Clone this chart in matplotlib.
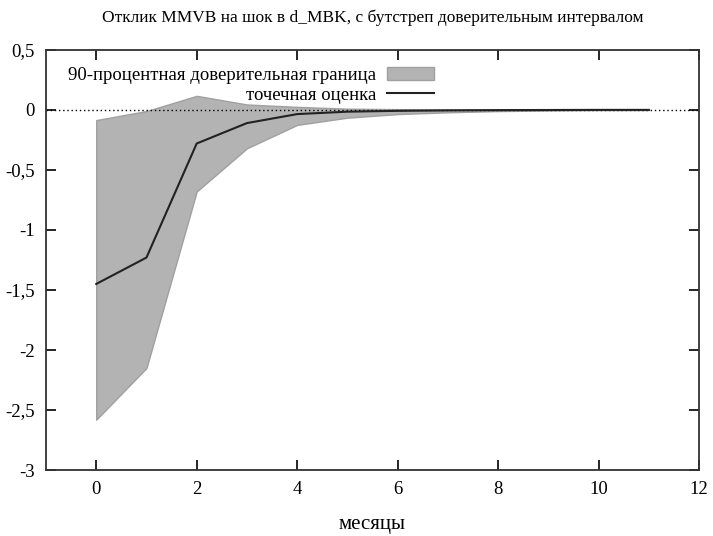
import numpy as np
import matplotlib.pyplot as plt
from matplotlib.patches import Patch
from matplotlib.lines import Line2D
from matplotlib.ticker import FuncFormatter

plt.rcParams['font.family'] = ['Liberation Serif', 'DejaVu Serif']

# данные отклика
months = [0, 1, 2, 3, 4, 5, 6, 7, 8, 9, 10, 11]
point_est = [-1.45, -1.23, -0.28, -0.11, -0.035, -0.015, -0.008, -0.004, -0.002, -0.001, 0.0, 0.0]
upper = [-0.085, -0.01, 0.117, 0.045, 0.025, 0.01, 0.006, 0.003, 0.002, 0.001, 0.0005, 0.0]
lower = [-2.58, -2.15, -0.68, -0.32, -0.125, -0.065, -0.035, -0.02, -0.01, -0.005, -0.002, -0.001]

title = "Отклик MMVB на шок в d_MBK, с бутстреп доверительным интервалом"
band_label = "90-процентная доверительная граница"
line_label = "точечная оценка"

fig = plt.figure(figsize=(7.13, 5.36), dpi=100)
ax = fig.add_axes([0.0645, 0.123, 0.916, 0.784])

ax.fill_between(months, lower, upper, facecolor='#b3b3b3', edgecolor='#a0a0a0', lw=1)
ax.plot(months, point_est, color='#222222', lw=1.5)
ax.axhline(0, color='black', lw=1, ls=(0, (1, 2)), zorder=1)

ax.set_xlim(-1, 12)
ax.set_ylim(-3, 0.5)
ax.set_xticks(np.arange(0, 13, 2))
ax.set_yticks(np.arange(-3, 0.51, 0.5))
fmt = FuncFormatter(lambda v, p: ('%g' % v).replace('.', ','))
ax.yaxis.set_major_formatter(fmt)
ax.tick_params(direction='in', top=True, right=True, length=7, width=1.2, labelsize=13.5, pad=8)
for s in ax.spines.values():
    s.set_linewidth(1.3)
    s.set_color('#333333')

ax.set_title(title, fontsize=12.5, pad=20)
ax.set_xlabel("месяцы", fontsize=15, labelpad=12)

handles = [Patch(facecolor='#b3b3b3', edgecolor='#a0a0a0'),
           Line2D([], [], color='#222222', lw=1.5)]
ax.legend(handles, [band_label, line_label], loc='upper right', bbox_to_anchor=(0.62, 1.0),
          markerfirst=False, frameon=False, fontsize=13.5, handlelength=2.5,
          handletextpad=0.6, labelspacing=0.15)

plt.savefig('out.png', dpi=100)
